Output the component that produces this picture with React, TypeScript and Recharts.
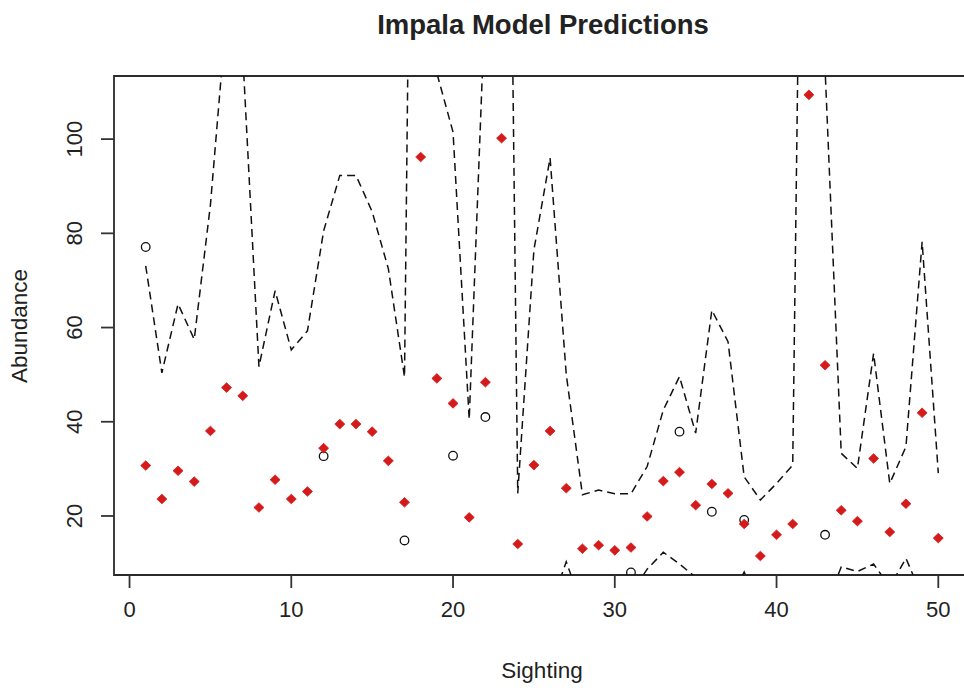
import React from 'react';
import {
  ComposedChart,
  Line,
  Scatter,
  XAxis,
  YAxis,
  ReferenceArea,
  Customized,
} from 'recharts';

// Sighting index (x) for every model prediction
const sightings = [
  1, 2, 3, 4, 5, 6, 7, 8, 9, 10,
  11, 12, 13, 14, 15, 16, 17, 18, 19, 20,
  21, 22, 23, 24, 25, 26, 27, 28, 29, 30,
  31, 32, 33, 34, 35, 36, 37, 38, 39, 40,
  41, 42, 43, 44, 45, 46, 47, 48, 49, 50,
];

// Predicted abundance per sighting
const predicted = [
  30.7, 23.6, 29.6, 27.3, 38.05, 47.25, 45.5, 21.8, 27.7, 23.6,
  25.2, 34.4, 39.5, 39.5, 37.9, 31.7, 22.9, 96.2, 49.2, 43.9,
  19.7, 48.4, 100.2, 14.05, 30.8, 38.05, 25.9, 13.05, 13.8, 12.7,
  13.3, 19.9, 27.4, 29.3, 22.3, 26.8, 24.8, 18.3, 11.5, 16.0,
  18.3, 109.4, 52.0, 21.2, 18.9, 32.2, 16.6, 22.6, 41.9, 15.3,
];

// Upper prediction bound
const upperBound = [
  73.1, 50.4, 65.0, 57.5, 86, 127, 118, 51.7, 67.8, 55.25,
  59.3, 80.5, 92.3, 92.3, 84.6, 72.5, 49.5, 369, 114, 101.5,
  40.5, 131, 320, 24.8, 76.5, 96.0, 50, 24.5, 25.5, 24.7,
  24.7, 30.5, 42.5, 49.6, 37.6, 63.7, 57, 28.3, 23.4, 26.9,
  30.8, 300, 115, 33.3, 30.1, 54.5, 26.9, 34.7, 78.2, 29.1,
];

// Lower prediction bound
const lowerBound = [
  3.1, 1.5, 2.8, 2.2, 3.5, 4.4, 4.0, 1.2, 2.3, 1.8,
  2.0, 3.0, 4.2, 4.3, 3.8, 2.6, 1.1, 5.5, 3.6, 3.4,
  0.9, 4.1, 5.8, 0.5, 2.9, 0.5, 10.3, 0.6, 1.0, 0.8,
  3.5, 8.7, 12.3, 9.8, 7.0, 3.0, 1.5, 8.1, 0.4, 1.5,
  2.5, 4.0, 0.5, 9.2, 8.2, 9.8, 5.0, 11.0, 3.0, 1.2,
];

// Observed counts (only some sightings were counted)
const observedSightings = [1, 12, 17, 20, 22, 31, 34, 36, 38, 43];
const observedCounts = [77.1, 32.7, 14.8, 32.8, 41.0, 8.0, 37.9, 20.9, 19.15, 16.0];

const xTicks = [0, 10, 20, 30, 40, 50];
const yTicks = [20, 40, 60, 80, 100];
const xDomain: [number, number] = [-0.96, 51.96];
const yDomain: [number, number] = [7.47, 113.4];

const rows = sightings.map((s, i) => ({
  sighting: s,
  predicted: predicted[i],
  upper: upperBound[i],
  lower: lowerBound[i],
}));

const observedRows = observedSightings.map((s, i) => ({
  sighting: s,
  observed: observedCounts[i],
}));

const FONT = '"Liberation Sans", Arial, Helvetica, sans-serif';
const INK = '#222';
const RED = '#d41a1a';

const XTick = (props: any) => {
  const { x, y, payload } = props;
  return (
    <text x={x} y={y} dy="0.71em" textAnchor="middle" fontSize={22} fontFamily={FONT} fill={INK}>
      {payload.value}
    </text>
  );
};

const YTick = (props: any) => {
  const { x, y, payload } = props;
  return (
    <text
      x={x}
      y={y}
      textAnchor="middle"
      fontSize={22}
      fontFamily={FONT}
      fill={INK}
      transform={`rotate(-90, ${x}, ${y})`}
    >
      {payload.value}
    </text>
  );
};

const Diamond = (props: any) => {
  const { cx, cy } = props;
  if (cx == null || cy == null) return null;
  const w = 5;
  const h = 4.8;
  return (
    <polygon
      points={`${cx},${cy - h} ${cx + w},${cy} ${cx},${cy + h} ${cx - w},${cy}`}
      fill={RED}
      stroke={RED}
      strokeWidth={0.8}
    />
  );
};

const OpenCircle = (props: any) => {
  const { cx, cy } = props;
  if (cx == null || cy == null) return null;
  return <circle cx={cx} cy={cy} r={4.3} fill="none" stroke="#111" strokeWidth={1.3} />;
};

const Titles = () => (
  <g fontFamily={FONT} fill={INK}>
    <text x={543} y={34} textAnchor="middle" fontSize={27.5} fontWeight="bold">
      Impala Model Predictions
    </text>
    <text x={542} y={678} textAnchor="middle" fontSize={22.5}>
      Sighting
    </text>
    <text x={27} y={326} textAnchor="middle" fontSize={22.5} transform="rotate(-90, 27, 326)">
      Abundance
    </text>
  </g>
);

export default function App() {
  return (
    <div
      style={{
        position: 'absolute',
        left: 0,
        top: 0,
        width: 964,
        height: 690,
        overflow: 'hidden',
        background: '#fff',
      }}
    >
      <ComposedChart
        width={980}
        height={690}
        data={rows}
        margin={{ top: 76, right: 10, bottom: 0, left: 0 }}
      >
        <XAxis
          type="number"
          dataKey="sighting"
          domain={xDomain}
          ticks={xTicks}
          allowDataOverflow
          height={115}
          axisLine={false}
          tickLine={{ stroke: '#333', strokeWidth: 1.8 }}
          tickSize={13}
          tickMargin={13}
          tick={<XTick />}
        />
        <YAxis
          type="number"
          domain={yDomain}
          ticks={yTicks}
          allowDataOverflow
          width={114}
          axisLine={false}
          tickLine={{ stroke: '#333', strokeWidth: 1.8 }}
          tickSize={13}
          tickMargin={19}
          tick={<YTick />}
        />
        <Line
          type="linear"
          dataKey="upper"
          stroke="#111"
          strokeWidth={1.5}
          strokeDasharray="8 5"
          dot={false}
          activeDot={false}
          isAnimationActive={false}
        />
        <Line
          type="linear"
          dataKey="lower"
          stroke="#111"
          strokeWidth={1.5}
          strokeDasharray="8 5"
          dot={false}
          activeDot={false}
          isAnimationActive={false}
        />
        <Scatter
          data={observedRows}
          dataKey="observed"
          shape={<OpenCircle />}
          isAnimationActive={false}
        />
        <Scatter
          data={rows}
          dataKey="predicted"
          shape={<Diamond />}
          isAnimationActive={false}
        />
        <ReferenceArea
          x1={xDomain[0]}
          x2={xDomain[1]}
          y1={yDomain[0]}
          y2={yDomain[1]}
          fill="none"
          fillOpacity={0}
          stroke="#2a2a2a"
          strokeWidth={1.8}
          ifOverflow="visible"
        />
        <Customized component={Titles} />
      </ComposedChart>
    </div>
  );
}
